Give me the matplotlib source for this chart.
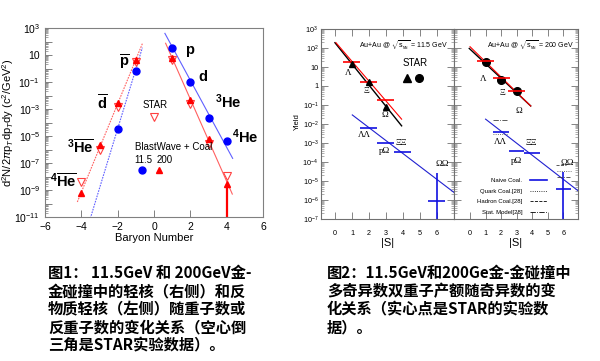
import numpy as np
import matplotlib.pyplot as plt
from matplotlib.ticker import FixedLocator, FuncFormatter, LogLocator, NullFormatter, MultipleLocator
from matplotlib.lines import Line2D

plt.rcParams['font.family'] = ['Liberation Sans', 'DejaVu Sans']
plt.rcParams['mathtext.fontset'] = 'custom'
plt.rcParams['mathtext.rm'] = 'Liberation Sans'
plt.rcParams['mathtext.it'] = 'Liberation Sans:italic'
plt.rcParams['mathtext.bf'] = 'Liberation Sans:bold'

# ---- figure 1 data (baryon number scan) ----
blue_x = [-2, -1, 1, 2, 3, 4]
blue_y = [3.3e-5, 0.6, 35, 0.1, 2e-4, 4e-6]           # BlastWave+Coal 11.5 GeV
red_x = [-4, -3, -2, -1, 1, 2, 3, 4]
red_y = [6.3e-10, 2.1e-6, 2.6e-3, 4.3, 5.6, 4.4e-3, 5.6e-6, 2.6e-9]   # 200 GeV
star_x = [-4, -3, -2, -1, 1, 2, 3, 4]
star_y = [4e-9, 1e-6, 1.3e-3, 3.0, 4.0, 2.5e-3, 2.7e-6, 1.1e-8]     # STAR
# fit lines (end points)
redL_x, redL_y = [-4.22, -0.62], [1.3e-10, 81]
blueL_x, blueL_y = [-3.55, -0.64], [5e-12, 35]
blueR_x, blueR_y = [0.6, 4.33], [400, 2.2e-7]
redR_x, redR_y = [0.64, 4.31], [74, 5e-10]

# ---- figure 2 data (strangeness scan) ----
S = [1, 2, 3]
star115 = [13.8, 1.55, 0.076]
red115 = [18, 1.55, 0.18]
star200 = [18, 2.1, 0.52]
red200 = [21, 2.8, 0.52]
dib_S = [2, 3, 4, 6]
blue115 = [6e-3, 1.05e-3, 3.2e-4, 9e-7]
blue200 = [4e-3, 4e-4, 3e-4, 4e-6]
omom_err115 = 2.5e-5
omom_err200 = 3e-5
redline115 = ([0.06, 3.92], [190, 0.018])
blkline115 = ([0.0, 3.92], [190, 0.008])
blueline115 = ([1.02, 7.0], [0.03, 2.5e-6])
redline200 = ([0.0, 3.9], [117, 0.089])
blkline200 = ([-0.05, 3.9], [95, 0.089])
blueline200 = ([1.0, 6.96], [0.018, 3e-6])
# other models at 200 GeV
stat_LL, quark_LL = 0.016, 3e-3
hadr_OO, quark_OO, stat_OO = 7e-5, 3.4e-5, 1.7e-5

fig = plt.figure(figsize=(6, 3.61), dpi=100)
W, H = 600.0, 361.0

def rect(x0, y0, x1, y1):
    return [x0 / W, 1 - y1 / H, (x1 - x0) / W, (y1 - y0) / H]

frame = '#808080'

# ================= Figure 1 =================
ax = fig.add_axes(rect(45, 28, 263, 217))
ax.set_yscale('log')
ax.set_xlim(-6, 6)
ax.set_ylim(1e-11, 1e3)
for s in ax.spines.values():
    s.set_color(frame)
    s.set_linewidth(0.8)

ax.plot(redL_x, redL_y, color='#ff6060', lw=0.8, ls=(0, (1.5, 1)))
ax.plot(blueL_x, blueL_y, color='#6060ff', lw=0.8, ls=(0, (1.5, 1)))
ax.plot(blueR_x, blueR_y, color='#6060ff', lw=0.8)
ax.plot(redR_x, redR_y, color='#ff6060', lw=0.8)
ax.vlines(4, 1e-11, red_y[-1], color='red', lw=1.6)
ax.plot(star_x, star_y, 'v', mfc='white', mec='#ff4040', ms=6, mew=0.8)
ax.plot(red_x, red_y, '^', color='red', ms=4.5)
ax.plot(blue_x, blue_y, 'o', color='blue', ms=5)

big = dict(fontsize=10.5, fontweight='bold', ha='center', va='center')
ax.text(-1.60, 10**0.48, r'$\mathbf{\overline{p}}$', **big)
ax.text(-2.81, 10**-2.56, r'$\mathbf{\overline{d}}$', **big)
ax.text(-4.07, 10**-5.89, r'$^{\mathbf{3}}\mathbf{\overline{He}}$', **big)
ax.text(-5.0, 10**-8.41, r'$^{\mathbf{4}}\mathbf{\overline{He}}$', **big)
ax.text(1.98, 10**1.37, 'p', **big)
ax.text(2.70, 10**-0.63, 'd', **big)
ax.text(4.07, 10**-2.48, r'$^{\mathbf{3}}$He', **big)
ax.text(5.0, 10**-5.07, r'$^{\mathbf{4}}$He', **big)

ax.text(0.05, 10**-2.70, 'STAR', fontsize=7, ha='center', va='center')
ax.plot([0], [10**-3.59], 'v', mfc='white', mec='#ff4040', ms=6, mew=0.8)
ax.text(-1.05, 10**-5.81, 'BlastWave + Coal', fontsize=7, ha='left', va='center')
ax.text(-0.6, 10**-6.78, '11.5', fontsize=7, ha='center', va='center')
ax.text(0.6, 10**-6.78, '200', fontsize=7, ha='center', va='center')
ax.plot([-0.66], [10**-7.52], 'o', color='blue', ms=5)
ax.plot([0.29], [10**-7.52], '^', color='red', ms=4.5)

ax.set_xticks([-6, -4, -2, 0, 2, 4, 6])
ax.set_xticklabels(['\u22126', '\u22124', '\u22122', '0', '2', '4', '6'])
ax.xaxis.set_minor_locator(MultipleLocator(0.5))
ax.yaxis.set_major_locator(FixedLocator([10.0**e for e in range(-11, 4)]))
ax.yaxis.set_minor_locator(LogLocator(base=10, subs=np.arange(2, 10), numticks=30))
ax.yaxis.set_minor_formatter(NullFormatter())

def lab1(v, pos):
    e = int(round(np.log10(v)))
    if e % 2 == 0:
        return ''
    if e == 1:
        return '10'
    return r'10$^{%d}$' % e

ax.yaxis.set_major_formatter(FuncFormatter(lab1))
ax.tick_params(which='both', direction='in', colors=frame, labelcolor='black', labelsize=7.5)
ax.tick_params(which='major', length=5, width=0.7)
ax.tick_params(which='minor', length=2.5, width=0.5)
ax.tick_params(axis='x', which='minor', length=0)
ax.set_xlabel('Baryon Number', fontsize=8, labelpad=1)
ax.set_ylabel(r'd$^2$N/2$\pi$p$_T$dp$_T$dy (c$^2$/GeV$^2$)', fontsize=8)
ax.yaxis.set_label_coords(-0.135, 0.5)

# ================= Figure 2 =================
ax1 = fig.add_axes(rect(321, 29, 454, 219))
ax2 = fig.add_axes(rect(454, 29, 578, 219))
ax1.set_xlim(-0.82, 7.0)
ax2.set_xlim(-1.03, 6.94)

def ylab2(v, p):
    e = int(round(np.log10(v)))
    if e == 0:
        return '1'
    if e == 1:
        return '10'
    return r'10$^{%d}$' % e

for a in (ax1, ax2):
    a.set_yscale('log')
    a.set_ylim(1e-7, 1e3)
    for s in a.spines.values():
        s.set_color('#707070')
        s.set_linewidth(0.8)
    a.set_xticks(range(0, 7))
    a.yaxis.set_major_locator(FixedLocator([10.0**e for e in range(-7, 4)]))
    a.yaxis.set_minor_locator(LogLocator(base=10, subs=np.arange(2, 10), numticks=30))
    a.yaxis.set_minor_formatter(NullFormatter())
    a.tick_params(which='both', direction='in', top=True, right=True, colors='#707070',
                  labelcolor='black', labelsize=5.2)
    a.tick_params(which='major', length=5, width=0.6)
    a.tick_params(which='minor', length=2, width=0.4)
    a.tick_params(axis='x', pad=8)
    a.set_xlabel('|S|', fontsize=8, labelpad=1)
ax1.yaxis.set_major_formatter(FuncFormatter(ylab2))
ax1.tick_params(axis='y', pad=2)
ax2.yaxis.set_major_formatter(NullFormatter())
fig.text(297 / W, 1 - 122 / H, 'Yield', rotation=90, fontsize=5.5, ha='center', va='center')

bw = 0.5
greek = dict(family=['Liberation Serif', 'DejaVu Serif'], fontsize=6.5, ha='center', va='center')

# 11.5 GeV
ax1.plot(*blkline115, color='black', lw=1.0)
ax1.plot(*redline115, color='red', lw=0.8)
ax1.plot(*blueline115, color='#2020d0', lw=0.8)
ax1.hlines(red115, np.array(S) - bw, np.array(S) + bw, color='red', lw=1.2)
ax1.plot(S, star115, '^', color='black', ms=5)
ax1.hlines(blue115, np.array(dib_S) - 0.5, np.array(dib_S) + 0.5, color='#1010e0', lw=1.2)
ax1.vlines(6, 1e-7, omom_err115, color='#1010e0', lw=1.2)
ax1.text(4.0, 10**2.16, r'Au+Au @ $\sqrt{\mathrm{s}_{_{\mathrm{NN}}}}$ = 11.5 GeV', fontsize=5, ha='center', va='center')
ax1.text(4.7, 10**1.19, 'STAR', fontsize=7, ha='center', va='center')
ax1.plot([4.25], [10**0.41], '^', color='black', ms=5.5)
ax1.plot([4.96], [10**0.41], 'o', color='black', ms=5.5)
ax1.text(0.78, 10**0.70, '\u039b', **greek)
ax1.text(1.82, 10**-0.26, '\u039e', **greek)
ax1.text(2.94, 10**-1.53, '\u03a9', **greek)
ax1.text(1.76, 10**-2.58, '\u039b\u039b', **greek)
ax1.text(2.94, 10**-3.41, 'p\u03a9', **greek)
ax1.text(3.92, 10**-3.02, '\u039e\u039e', **greek)
ax1.text(6.31, 10**-4.12, '\u03a9\u03a9', **greek)

# 200 GeV
ax2.plot(*blkline200, color='black', lw=1.0)
ax2.plot(*redline200, color='red', lw=0.8)
ax2.plot(*blueline200, color='#2020d0', lw=0.8)
ax2.plot(S, star200, 'o', color='black', ms=5.5)
ax2.hlines(red200, np.array(S) - 0.55, np.array(S) + 0.55, color='red', lw=1.2)
ax2.hlines(blue200, np.array(dib_S) - 0.5, np.array(dib_S) + 0.5, color='#1010e0', lw=1.2)
ax2.vlines(6, 1e-7, omom_err200, color='#1010e0', lw=1.2)
ax2.hlines([stat_LL], 1.5, 2.4, color='#404040', lw=0.6, ls='-.')
ax2.hlines([quark_LL], 1.5, 2.4, color='#404040', lw=0.6, ls=':')
ax2.hlines([hadr_OO], 5.5, 6.2, color='#404040', lw=0.6, ls='--')
ax2.hlines([quark_OO], 5.6, 6.5, color='#404040', lw=0.6, ls=':')
ax2.hlines([stat_OO], 5.6, 6.4, color='#404040', lw=0.6, ls='-.')
ax2.text(3.86, 10**2.16, r'Au+Au @ $\sqrt{\mathrm{s}_{_{\mathrm{NN}}}}$ = 200 GeV', fontsize=5, ha='center', va='center')
ax2.text(0.82, 10**0.35, '\u039b', **greek)
ax2.text(2.10, 10**-0.35, '\u039e', **greek)
ax2.text(3.15, 10**-1.30, '\u03a9', **greek)
ax2.text(1.93, 10**-2.93, '\u039b\u039b', **greek)
ax2.text(2.96, 10**-3.93, 'p\u03a9', **greek)
ax2.text(3.92, 10**-3.02, '\u039e\u039e', **greek)
ax2.text(6.28, 10**-4.07, '\u03a9\u03a9', **greek)

handles = [Line2D([], [], color='#1010e0', lw=1.2),
           Line2D([], [], color='black', lw=0.6, ls=':'),
           Line2D([], [], color='black', lw=0.6, ls='--'),
           Line2D([], [], color='black', lw=0.6, ls='-.')]
labels = ['Naive Coal.', 'Quark Coal.[28]', 'Hadron Coal.[28]', 'Stat. Model[28]']
ax2.legend(handles, labels, loc='upper left', bbox_to_anchor=(474 / W, 1 - 175 / H),
           bbox_transform=fig.transFigure, frameon=False, markerfirst=False,
           fontsize=4.3, handlelength=3.0, labelspacing=0.9, borderpad=0, handletextpad=1.2)

# ================= captions =================
cap = dict(family=['Noto Sans CJK SC', 'DejaVu Sans'], fontweight='bold', fontsize=11,
           ha='left', va='center')
cap1 = ['图1： 11.5GeV 和 200GeV金-',
        '金碰撞中的轻核（右侧）和反',
        '物质轻核（左侧）随重子数或',
        '反重子数的变化关系（空心倒',
        '三角是STAR实验数据）。']
cap2 = ['图2：11.5GeV和200Ge金-金碰撞中',
        '多奇异数双重子产额随奇异数的变',
        '化关系（实心点是STAR的实验数',
        '据）。']
ys = [273, 291.5, 309.5, 327.5, 345]
for t, yy in zip(cap1, ys):
    fig.text(48 / W, 1 - yy / H, t, **cap)
for t, yy in zip(cap2, ys):
    fig.text(327 / W, 1 - yy / H, t, **cap)

fig.savefig('out.png', dpi=100)
